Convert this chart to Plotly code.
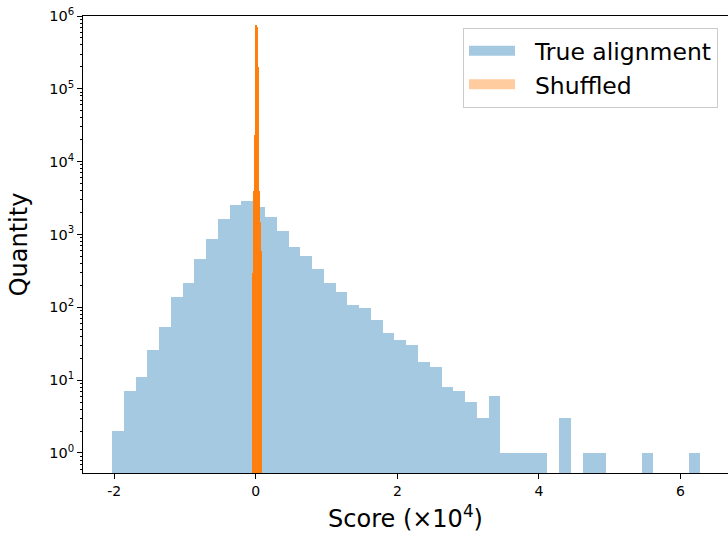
import plotly.graph_objects as go

# ---- data (scores in units of 10^4) ----
true_bin_start = -2.03
true_bin_width = 0.1662
true_counts = [2, 7, 11, 26, 54, 137, 214, 465, 877, 1650,
               2570, 2860, 2400, 1720, 1107, 665, 507, 331, 218, 161,
               109, 97, 66, 45, 36, 30, 18, 15, 8, 7,
               5, 3, 6, 1, 1, 1, 1, 0, 3, 0,
               1, 1, 0, 0, 0, 1, 0, 0, 0, 1]

shuf_bin_start = -0.0522
shuf_bin_width = 0.0141
shuf_counts = [300, 4000, 23000, 750000, 700000, 200000, 4000, 1500, 600]

series_names = ["True alignment", "Shuffled"]
xtick_vals = [-2, 0, 2, 4, 6]
xtick_text = ["-2", "0", "2", "4", "6"]
ytick_vals = [1, 10, 100, 1000, 10000, 100000, 1000000]
ytick_text = ["10<sup>%d</sup>" % i for i in range(7)]
yminor_vals = [k * 10 ** d for d in range(-1, 6) for k in range(2, 10)]


def centers(start, width, n):
    return [start + width * (i + 0.5) for i in range(n)]


def clean(counts):
    return [c if c > 0 else None for c in counts]


BLUE = "rgba(31,119,180,0.4)"
ORANGE = "#ff7f0e"
ORANGE_LIGHT = "rgba(255,127,14,0.4)"
FONT = "DejaVu Sans"
PAD = "\u00a0\u00a0"

fig = go.Figure()
fig.add_trace(go.Bar(
    x=centers(true_bin_start, true_bin_width, len(true_counts)),
    y=clean(true_counts), width=true_bin_width,
    marker=dict(color=BLUE, line=dict(width=0)),
    name=series_names[0], showlegend=False))
fig.add_trace(go.Bar(
    x=centers(shuf_bin_start, shuf_bin_width, len(shuf_counts)),
    y=clean(shuf_counts), width=shuf_bin_width,
    marker=dict(color=ORANGE, line=dict(width=0)),
    name=series_names[1], showlegend=False))
# legend entries
fig.add_trace(go.Scatter(x=[None], y=[None], mode="lines",
                         line=dict(color=BLUE, width=16), name=PAD + series_names[0]))
fig.add_trace(go.Scatter(x=[None], y=[None], mode="lines",
                         line=dict(color=ORANGE_LIGHT, width=16), name=PAD + series_names[1]))

fig.update_layout(
    width=728, height=536,
    margin=dict(l=83, r=0, t=16, b=63),
    paper_bgcolor="white", plot_bgcolor="white",
    barmode="overlay", bargap=0,
    font=dict(family=FONT, color="black", size=14),
    legend=dict(x=0.9845, y=0.9737, xanchor="right", yanchor="top",
                bgcolor="white", bordercolor="#cccccc", borderwidth=1,
                font=dict(size=23.5, family=FONT), itemwidth=46,
                tracegroupgap=0),
    xaxis=dict(range=[-2.44, 6.67], tickvals=xtick_vals, ticktext=xtick_text,
               showgrid=False, zeroline=False, showline=True, linecolor="black",
               linewidth=1, mirror=True, ticks="outside", ticklen=5,
               tickcolor="black", tickfont=dict(size=14),
               title=dict(text="Score (×10<sup>4</sup>)", font=dict(size=24), standoff=12)),
    yaxis=dict(type="log", range=[-0.275, 6.0], tickvals=ytick_vals, ticktext=ytick_text,
               showgrid=False, zeroline=False, showline=True, linecolor="black",
               linewidth=1, ticks="outside", ticklen=5, tickcolor="black",
               tickfont=dict(size=14.5),
               minor=dict(ticks="outside", ticklen=2.5, tickcolor="black",
                          tickvals=yminor_vals, showgrid=False),
               title=dict(text="Quantity", font=dict(size=24), standoff=14)),
)

fig.write_html("out.html")
